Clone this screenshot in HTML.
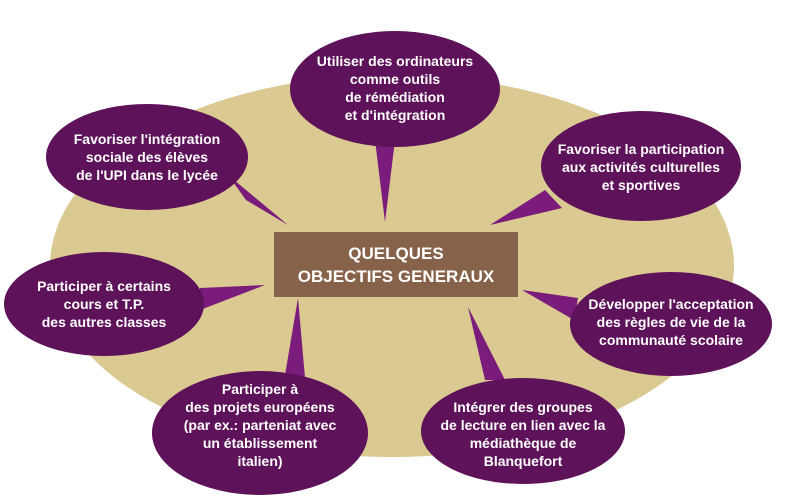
<!DOCTYPE html>
<html><head><meta charset="utf-8"><style>
html,body{margin:0;padding:0;background:#fff;width:800px;height:504px;overflow:hidden}
text{font-family:"Liberation Sans",sans-serif;font-weight:bold;font-size:14px;fill:#fff;text-anchor:middle}
</style></head><body>
<svg width="800" height="504" viewBox="0 0 800 504" xmlns="http://www.w3.org/2000/svg">
<ellipse cx="392" cy="266" rx="342" ry="191" fill="#dac991"/>
<g fill="#7b1b7b">
<polygon points="375,140 395,140 385,222"/>
<polygon points="228,175 246,200 288,225"/>
<polygon points="545,190 562,208 490,225"/>
<polygon points="200,288 200,310 265,285"/>
<polygon points="578,298 574,320 522,290"/>
<polygon points="285,375 305,378 298,298"/>
<polygon points="485,380 505,380 468,307"/>
</g>
<g fill="#5d1259">
<ellipse cx="395" cy="89" rx="105" ry="58"/>
<ellipse cx="147" cy="157" rx="101" ry="53"/>
<ellipse cx="641" cy="166" rx="100" ry="55"/>
<ellipse cx="104" cy="304" rx="100" ry="52"/>
<ellipse cx="671" cy="324" rx="101" ry="52"/>
<ellipse cx="260" cy="433" rx="108" ry="62"/>
<ellipse cx="523" cy="431" rx="102" ry="53"/>
</g>
<rect x="274" y="232" width="244" height="65" fill="#87624a"/>
<text x="396" y="259" style="font-size:17px">QUELQUES</text>
<text x="396" y="282" style="font-size:17px">OBJECTIFS  GENERAUX</text>
<text x="395" y="66">Utiliser des ordinateurs</text>
<text x="395" y="84">comme outils</text>
<text x="395" y="102">de rémédiation</text>
<text x="395" y="120">et d'intégration</text>
<text x="147" y="144">Favoriser l'intégration</text>
<text x="147" y="162">sociale des élèves</text>
<text x="147" y="180">de l'UPI dans le lycée</text>
<text x="641" y="154">Favoriser la participation</text>
<text x="641" y="172">aux activités culturelles</text>
<text x="641" y="190">et sportives</text>
<text x="104" y="291">Participer à certains</text>
<text x="104" y="309">cours et T.P.</text>
<text x="104" y="327">des autres classes</text>
<text x="671" y="309">Développer l'acceptation</text>
<text x="671" y="327">des règles de vie de la</text>
<text x="671" y="345">communauté scolaire</text>
<text x="260" y="394">Participer à</text>
<text x="260" y="412">des projets européens</text>
<text x="260" y="430">(par ex.:  parteniat avec</text>
<text x="260" y="448">un établissement</text>
<text x="260" y="466">italien)</text>
<text x="523" y="412">Intégrer des groupes</text>
<text x="523" y="430">de lecture en lien avec la</text>
<text x="523" y="448">médiathèque de</text>
<text x="523" y="466">Blanquefort</text>
</svg>
</body></html>
